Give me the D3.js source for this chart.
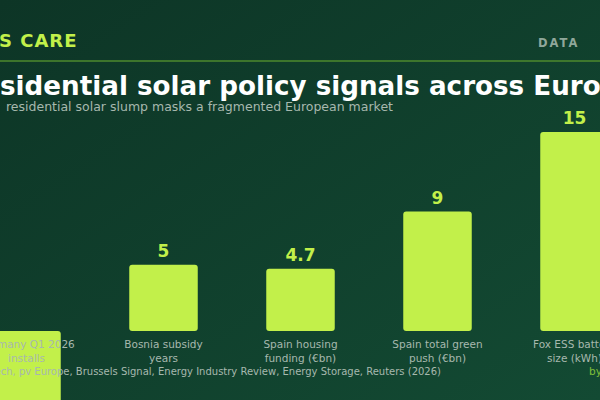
<!DOCTYPE html>
<html><head><meta charset="utf-8">
<script src="https://cdn.jsdelivr.net/npm/d3@7"></script>
<style>body{margin:0;overflow:hidden;background:#0f3a29}</style></head>
<body><svg id="c" width="600" height="400"></svg>
<script>
const categories = ["Germany Q1 2026|installs","Bosnia subsidy|years","Spain housing|funding (€bn)","Spain total green|push (€bn)","Fox ESS battery|size (kWh)"];
const values = [-9, 5, 4.7, 9, 15];
const valueLabels = ["", "5", "4.7", "9", "15"];

const svg = d3.select("#c");
const defs = svg.append("defs");
const g = defs.append("linearGradient").attr("id","bg").attr("x1",0).attr("y1",0).attr("x2",1).attr("y2",1);
g.append("stop").attr("offset","0%").attr("stop-color","#0d3526");
g.append("stop").attr("offset","100%").attr("stop-color","#134a33");
svg.append("rect").attr("width",600).attr("height",400).attr("fill","url(#bg)");

const lime = "#c2f04a";
const x = d3.scaleBand().domain(categories).range([-42,643]).paddingInner(0.5).paddingOuter(0.25);
const y = d3.scaleLinear().domain([0,15]).range([331,132]);

svg.selectAll("rect.bar").data(values).join("rect").attr("class","bar")
  .attr("x",(d,i)=>x(categories[i])).attr("width",x.bandwidth())
  .attr("y",d=>y(Math.max(0,d))).attr("height",d=>Math.abs(y(d)-y(0)))
  .attr("rx",3).attr("fill",lime);

svg.append("text").attr("x",-1).attr("y",47).attr("fill",lime).attr("font-family","DejaVu Sans").attr("font-weight","bold").attr("font-size",18).attr("letter-spacing",1).text("S CARE");
svg.append("text").attr("x",538).attr("y",47).attr("fill","#8fa79a").attr("font-family","DejaVu Sans").attr("font-weight","bold").attr("font-size",11.5).attr("letter-spacing",2).text("DATA");
svg.append("line").attr("x1",0).attr("x2",600).attr("y1",61).attr("y2",61).attr("stroke","#4e8a2e").attr("stroke-width",1.5);

const title = svg.append("text").attr("y",95).attr("fill","#ffffff").attr("font-family","DejaVu Sans").attr("font-weight","bold").attr("font-size",100);
const pre = title.append("tspan").text("Re");
const mid = title.append("tspan").text("sidential solar policy signals across Euro");
title.append("tspan").text("pe");
const wPre = pre.node().getComputedTextLength(), wMid = mid.node().getComputedTextLength();
const fs = 100*601/wMid;
title.attr("font-size",fs).attr("x",-wPre*fs/100);

svg.append("text").attr("x",6).attr("y",111).attr("fill","#a7b8ae").attr("font-family","DejaVu Sans").attr("font-size",12.5).text("residential solar slump masks a fragmented European market");

svg.selectAll("text.val").data(values).join("text").attr("class","val")
  .attr("x",(d,i)=>x(categories[i])+x.bandwidth()/2).attr("y",d=>y(d)-8)
  .attr("text-anchor","middle").attr("fill",lime).attr("font-family","DejaVu Sans").attr("font-weight","bold").attr("font-size",17)
  .text((d,i)=>valueLabels[i]);

categories.forEach((c,i)=>{
  const t = svg.append("text").attr("text-anchor","middle").attr("fill","#a7b8ae").attr("font-family","DejaVu Sans").attr("font-size",10.5);
  c.split("|").forEach((l,j)=>t.append("tspan").attr("x",x(c)+x.bandwidth()/2).attr("y",348+j*13.5).text(l));
});
svg.append("text").attr("x",441).attr("y",375).attr("text-anchor","end").attr("fill","#a7b8ae").attr("font-family","DejaVu Sans").attr("font-size",10).text("Sources: PV Tech, pv Europe, Brussels Signal, Energy Industry Review, Energy Storage, Reuters (2026)");
svg.append("text").attr("x",589).attr("y",375).attr("fill","#7fbf3a").attr("font-family","DejaVu Sans").attr("font-size",10.5).text("by");
</script></body></html>
